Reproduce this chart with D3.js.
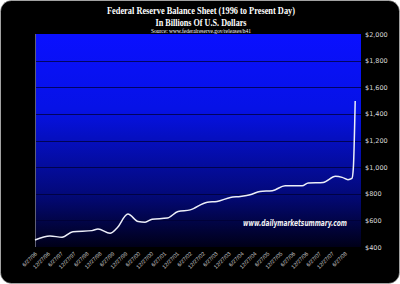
<!DOCTYPE html>
<html>
<head>
<meta charset="utf-8">
<script src="https://cdn.jsdelivr.net/npm/d3@7"></script>
<style>
  html, body { margin: 0; padding: 0; background: #fff; }
  svg { display: block; }
</style>
</head>
<body>
<svg id="chart" width="400" height="284"></svg>
<script>
'use strict';

// balance sheet readings (billions USD)
const dates = [
  '1996-06-27', '1997-01-25', '1997-07-15', '1997-12-15', '1998-09-12',
  '1998-12-05', '1999-05-25', '1999-09-01', '2000-02-01', '2000-06-25',
  '2000-10-01', '2001-01-08', '2001-08-10', '2002-01-10', '2002-07-01',
  '2003-02-28', '2003-07-15', '2004-01-20', '2004-06-10', '2004-10-25',
  '2005-03-15', '2005-09-05', '2006-03-05', '2006-11-01', '2007-01-25',
  '2007-08-25', '2008-02-15', '2008-05-20', '2008-08-10', '2008-10-05',
  '2008-10-25', '2008-11-20'
];
const values = [
  453, 483, 473, 515, 523,
  536, 503, 543, 647, 591,
  586, 609, 617, 667, 679,
  737, 742, 772, 780, 792,
  817, 823, 860, 860, 881,
  885, 931, 923, 906, 915,
  996, 1497
];
const yTicks = [400, 600, 800, 1000, 1200, 1400, 1600, 1800, 2000];
const tickLabels = [
  '6/27/96', '12/27/96', '6/27/97', '12/27/97', '6/27/98', '12/27/98',
  '6/27/99', '12/27/99', '6/27/00', '12/27/00', '6/27/01', '12/27/01',
  '6/27/02', '12/27/02', '6/27/03', '12/27/03', '6/27/04', '12/27/04',
  '6/27/05', '12/27/05', '6/27/06', '12/27/06', '6/27/07', '12/27/07',
  '6/27/08'
];

const svg = d3.select('#chart'),
  W = 400, H = 284,
  plot = { left: 35, right: 361, top: 34, bottom: 247 };

const parseIso = d3.timeParse('%Y-%m-%d'),
  parseTick = d3.timeParse('%m/%d/%y');
const series = dates.map((d, i) => ({ date: parseIso(d), value: values[i] }));

const x = d3.scaleTime()
  .domain([parseIso('1996-06-27'), parseIso('2009-02-10')])
  .range([plot.left, plot.right]);
const y = d3.scaleLinear()
  .domain([400, 2000])
  .range([plot.bottom, plot.top]);

// background card
svg.append('rect')
  .attr('x', 0.5).attr('y', 0.5)
  .attr('width', W - 1).attr('height', H - 1)
  .attr('rx', 11).attr('ry', 11)
  .attr('fill', '#000')
  .attr('stroke', '#bbb').attr('stroke-width', 0.6);

const defs = svg.append('defs');
const grad = defs.append('linearGradient')
  .attr('id', 'bg').attr('x1', 0).attr('y1', 0).attr('x2', 0).attr('y2', 1);
grad.append('stop').attr('offset', '0%').attr('stop-color', '#0a10ff');
grad.append('stop').attr('offset', '35%').attr('stop-color', '#0612e6');
grad.append('stop').attr('offset', '75%').attr('stop-color', '#03097a');
grad.append('stop').attr('offset', '100%').attr('stop-color', '#000018');

svg.append('rect')
  .attr('x', plot.left).attr('y', plot.top)
  .attr('width', plot.right - plot.left)
  .attr('height', plot.bottom - plot.top)
  .attr('fill', 'url(#bg)');

// grid lines
svg.append('g')
  .selectAll('line')
  .data(yTicks.slice(1, -1))
  .enter()
  .append('line')
  .attr('x1', plot.left).attr('x2', plot.right)
  .attr('y1', d => Math.round(y(d)) + 0.5)
  .attr('y2', d => Math.round(y(d)) + 0.5)
  .attr('stroke', '#000033').attr('stroke-opacity', 0.75)
  .attr('stroke-width', 1);

// left edge
svg.append('line')
  .attr('x1', plot.left + 0.5).attr('x2', plot.left + 0.5)
  .attr('y1', plot.top).attr('y2', plot.bottom)
  .attr('stroke', '#606074').attr('stroke-width', 1);

// y axis on the right
const yAxis = d3.axisRight(y)
  .tickValues(yTicks)
  .tickSize(0)
  .tickPadding(4)
  .tickFormat(d3.format('$,'));
svg.append('g')
  .attr('transform', `translate(${plot.right},0)`)
  .call(yAxis)
  .call(g => g.select('.domain').remove())
  .call(g => g.selectAll('text')
    .attr('fill', '#d8d8d8')
    .style('font-family', 'Tahoma, "DejaVu Sans", sans-serif')
    .style('font-size', '6.5px'));

// x axis, rotated labels
const xAxis = d3.axisBottom(x)
  .tickValues(tickLabels.map(t => parseTick(t)))
  .tickSize(0)
  .tickPadding(0)
  .tickFormat((d, i) => tickLabels[i]);
svg.append('g')
  .attr('transform', `translate(0,${plot.bottom})`)
  .call(xAxis)
  .call(g => g.select('.domain').remove())
  .call(g => g.selectAll('text')
    .attr('fill', '#d0d0d0')
    .attr('text-anchor', 'end')
    .attr('dy', 0)
    .attr('transform', 'translate(2,7) rotate(-45)')
    .style('font-family', '"Liberation Sans", Arial, sans-serif')
    .style('font-size', '5.5px'));

// watermark
svg.append('text')
  .attr('x', 347).attr('y', 226)
  .attr('text-anchor', 'end')
  .attr('fill', '#f2f2f2')
  .style('font-family', '"DejaVu Sans", Verdana, sans-serif')
  .style('font-size', '8px')
  .style('font-weight', 'bold')
  .style('font-style', 'italic')
  .attr('textLength', 104).attr('lengthAdjust', 'spacingAndGlyphs')
  .text('www.dailymarketsummary.com');

// the series
const line = d3.line()
  .x(d => x(d.date))
  .y(d => y(d.value))
  .curve(d3.curveMonotoneX);
svg.append('path')
  .datum(series)
  .attr('d', line)
  .attr('fill', 'none')
  .attr('stroke', '#eceef8')
  .attr('stroke-width', 1.5)
  .attr('stroke-linejoin', 'round');

// titles
const serif = '"Liberation Serif", "Times New Roman", serif';
svg.append('text')
  .attr('x', 201).attr('y', 14)
  .attr('text-anchor', 'middle')
  .attr('fill', '#fff')
  .style('font-family', serif)
  .style('font-weight', 'bold')
  .style('font-size', '10.5px')
  .attr('textLength', 188).attr('lengthAdjust', 'spacingAndGlyphs')
  .text('Federal Reserve Balance Sheet (1996 to Present Day)');
svg.append('text')
  .attr('x', 201).attr('y', 26)
  .attr('text-anchor', 'middle')
  .attr('fill', '#fff')
  .style('font-family', serif)
  .style('font-weight', 'bold')
  .style('font-size', '10px')
  .attr('textLength', 91).attr('lengthAdjust', 'spacingAndGlyphs')
  .text('In Billions Of U.S. Dollars');
svg.append('text')
  .attr('x', 201).attr('y', 32.5)
  .attr('text-anchor', 'middle')
  .attr('fill', '#fff')
  .style('font-family', serif)
  .style('font-size', '5.5px')
  .attr('textLength', 100).attr('lengthAdjust', 'spacingAndGlyphs')
  .text('Source: www.federalreserve.gov/releases/h41');
</script>
</body>
</html>
